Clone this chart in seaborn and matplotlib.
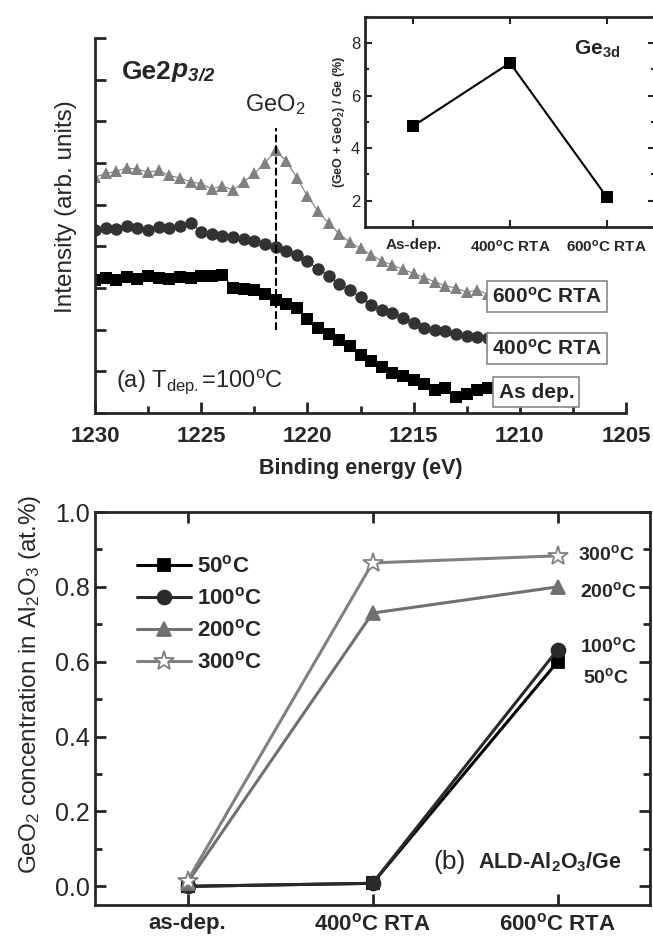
import numpy as np
import pandas as pd
import matplotlib.pyplot as plt
from matplotlib.ticker import MultipleLocator
import seaborn as sns

# ---- panel (a) spectra, Ge 2p3/2 (0.5 eV steps) ----
energy = np.arange(1230.0, 1211.4, -0.5)
int_600 = [5.66, 5.75, 5.80, 5.88, 5.85, 5.78, 5.82, 5.70, 5.64, 5.55,
           5.50, 5.38, 5.45, 5.35, 5.55, 5.75, 6.00, 6.30, 6.05, 5.65,
           5.20, 4.85, 4.55, 4.30, 4.10, 3.95, 3.80, 3.65, 3.55, 3.45,
           3.35, 3.25, 3.15, 3.05, 3.00, 2.90, 2.95, 2.85]
int_400 = [4.39, 4.45, 4.42, 4.48, 4.45, 4.40, 4.47, 4.45, 4.50, 4.56,
           4.35, 4.30, 4.25, 4.22, 4.18, 4.12, 4.05, 3.98, 3.90, 3.80,
           3.65, 3.45, 3.30, 3.10, 2.95, 2.78, 2.60, 2.48, 2.40, 2.28,
           2.15, 2.05, 2.00, 1.98, 1.90, 1.85, 1.83, 1.80]
int_asdep = [3.19, 3.25, 3.20, 3.27, 3.22, 3.28, 3.24, 3.22, 3.27, 3.25,
             3.28, 3.30, 3.31, 3.00, 2.98, 2.95, 2.85, 2.72, 2.62, 2.52,
             2.25, 2.05, 1.90, 1.75, 1.60, 1.40, 1.25, 1.10, 0.96, 0.90,
             0.79, 0.70, 0.55, 0.60, 0.38, 0.45, 0.55, 0.60]
geo2_peak = 1221.5

# ---- inset, Ge 3d ----
inset_labels = ["As-dep.", "400$^o$C RTA", "600$^o$C RTA"]
inset_vals = [4.85, 7.25, 2.15]

# ---- panel (b) ----
anneal_labels = ["as-dep.", "400$^o$C RTA", "600$^o$C RTA"]
temps = ["50$^o$C", "100$^o$C", "200$^o$C", "300$^o$C"]
conc_50 = [0.0, 0.008, 0.60]
conc_100 = [0.0, 0.008, 0.632]
conc_200 = [0.01, 0.73, 0.80]
conc_300 = [0.015, 0.864, 0.883]

sns.set_theme(style="ticks")
plt.rcParams["font.family"] = ["Liberation Sans", "DejaVu Sans"]
plt.rcParams["mathtext.fontset"] = "custom"
plt.rcParams["mathtext.rm"] = "Liberation Sans"
plt.rcParams["mathtext.it"] = "Liberation Sans:italic"
plt.rcParams["mathtext.bf"] = "Liberation Sans:bold"
plt.rcParams["mathtext.default"] = "regular"
plt.rcParams["axes.linewidth"] = 2.0

fig = plt.figure(figsize=(6.53, 9.4), dpi=100)

# ================= panel (a) =================
ax = fig.add_axes([0.1455, 0.5606, 0.8132, 0.399])
spec = [(int_asdep, "s", "black", 8), (int_400, "o", "#333333", 9),
        (int_600, "^", "#808080", 9)]
for vals, mk, col, ms in spec:
    sns.lineplot(x=energy, y=vals, ax=ax, color=col, marker=mk, markersize=ms,
                 markeredgewidth=0, linewidth=0.8, sort=False, estimator=None)
ax.vlines(geo2_peak, 2.0, 6.85, colors="black", linestyles="--", linewidth=1.5)
ax.set_xlim(1230, 1205)
ax.set_ylim(0, 9)
ax.xaxis.set_major_locator(MultipleLocator(5))
ax.xaxis.set_minor_locator(MultipleLocator(2.5))
ax.yaxis.set_major_locator(MultipleLocator(1))
ax.set_yticklabels([])
ax.tick_params(axis="both", which="both", direction="in", width=2)
ax.tick_params(axis="both", which="major", length=8)
ax.tick_params(axis="both", which="minor", length=5)
ax.tick_params(axis="x", labelsize=16, pad=9)
for t in ax.get_xticklabels():
    t.set_fontweight("bold")
ax.spines["top"].set_visible(False)
ax.spines["right"].set_visible(False)
ax.set_xlabel("Binding energy (eV)", fontsize=15.5, fontweight="bold", labelpad=8)
ax.set_ylabel("Intensity (arb. units)", fontsize=17.5)
ax.yaxis.set_label_coords(-0.033, 0.55)

t_ge = ax.text(0.05, 0.89, "Ge2", transform=ax.transAxes, fontsize=19,
               fontweight="bold")
ax.annotate("$p_{3/2}$", xy=(1, 0), xycoords=t_ge, va="bottom", fontsize=19,
            fontweight="bold", fontstyle="italic")
ax.text(geo2_peak, 7.1, "GeO$_2$", fontsize=17, ha="center", va="bottom")
ax.text(0.04, 0.07, "(a) T$_{dep.}$=100$^o$C", transform=ax.transAxes, fontsize=17)
box = dict(boxstyle="square,pad=0.25", facecolor="white", edgecolor="#888888", lw=1.2)
ax.text(1211.3, int_600[-1] - 0.05, "600$^o$C RTA", fontsize=15, fontweight="bold",
        va="center", bbox=box)
ax.text(1211.3, int_400[-1] - 0.25, "400$^o$C RTA", fontsize=15, fontweight="bold",
        va="center", bbox=box)
ax.text(1211.0, 0.5, "As dep.", fontsize=15, fontweight="bold", va="center", bbox=box)

# inset
axi = fig.add_axes([0.559, 0.7585, 0.444, 0.2235])
sns.lineplot(x=[0, 1, 2], y=inset_vals, ax=axi, color="black", marker="s",
             markersize=8, markeredgewidth=0, linewidth=1.5)
axi.set_xlim(-0.5, 2.5)
axi.set_ylim(1, 9)
axi.set_xticks([0, 1, 2])
axi.set_xticklabels(inset_labels, fontsize=11, fontweight="bold")
axi.yaxis.set_major_locator(MultipleLocator(2))
axi.yaxis.set_minor_locator(MultipleLocator(1))
axi.tick_params(axis="both", which="both", direction="in", width=1.5,
                top=True, right=True, labelsize=12)
axi.tick_params(axis="x", labelsize=11, pad=8)
axi.tick_params(which="major", length=5)
axi.tick_params(which="minor", length=3)
axi.set_ylabel("(GeO + GeO$_2$) / Ge (%)", fontsize=9, fontweight="bold", labelpad=3)
axi.text(0.72, 0.82, "Ge$_{3d}$", transform=axi.transAxes, fontsize=15, fontweight="bold")

# ================= panel (b) =================
axb = fig.add_axes([0.1455, 0.0372, 0.85, 0.4181])
pos = [0, 1, 2]
series = [(conc_50, "s", "black", "black", 9),
          (conc_100, "o", "#2a2a2a", "#2a2a2a", 10),
          (conc_200, "^", "#707070", "#707070", 10),
          (conc_300, "*", "#808080", "white", 15)]
for (vals, mk, col, face, ms), lab in zip(series, temps):
    sns.lineplot(x=pos, y=vals, ax=axb, color=col, marker=mk, markersize=ms,
                 markerfacecolor=face, markeredgecolor=col, markeredgewidth=1.3,
                 linewidth=2.2, label=lab)
axb.set_xlim(-0.5, 2.5)
axb.set_ylim(-0.05, 1.0)
axb.set_xticks(pos)
axb.set_xticklabels(anneal_labels, fontsize=16, fontweight="bold")
axb.yaxis.set_major_locator(MultipleLocator(0.2))
axb.yaxis.set_minor_locator(MultipleLocator(0.1))
axb.tick_params(axis="both", which="both", direction="in", width=2,
                top=True, right=True)
axb.tick_params(which="major", length=8)
axb.tick_params(which="minor", length=5)
axb.tick_params(axis="y", labelsize=18)
axb.tick_params(axis="x", pad=6)
axb.set_ylabel("GeO$_2$ concentration in Al$_2$O$_3$ (at.%)", fontsize=17.5)
axb.yaxis.set_label_coords(-0.093, 0.56)
leg = axb.legend(loc="upper left", bbox_to_anchor=(0.04, 0.94), frameon=False,
                 prop={"size": 16, "weight": "bold"}, handlelength=2.4,
                 labelspacing=0.45, handletextpad=0.3)

axb.text(2.11, conc_300[2] + 0.005, "300$^o$C", fontsize=14, fontweight="bold",
         va="center")
axb.text(2.12, conc_200[2] - 0.01, "200$^o$C", fontsize=14, fontweight="bold",
         va="center")
axb.text(2.12, conc_100[2] + 0.01, "100$^o$C", fontsize=14, fontweight="bold",
         va="center")
axb.text(2.14, conc_50[2] - 0.04, "50$^o$C", fontsize=14, fontweight="bold",
         va="center")
axb.text(0.61, 0.11, "(b)", transform=axb.transAxes, fontsize=19, va="center")
axb.text(0.69, 0.11, "ALD-Al$_2$O$_3$/Ge", transform=axb.transAxes, fontsize=15.5,
         fontweight="bold", va="center")

fig.savefig("out.png", dpi=100)
